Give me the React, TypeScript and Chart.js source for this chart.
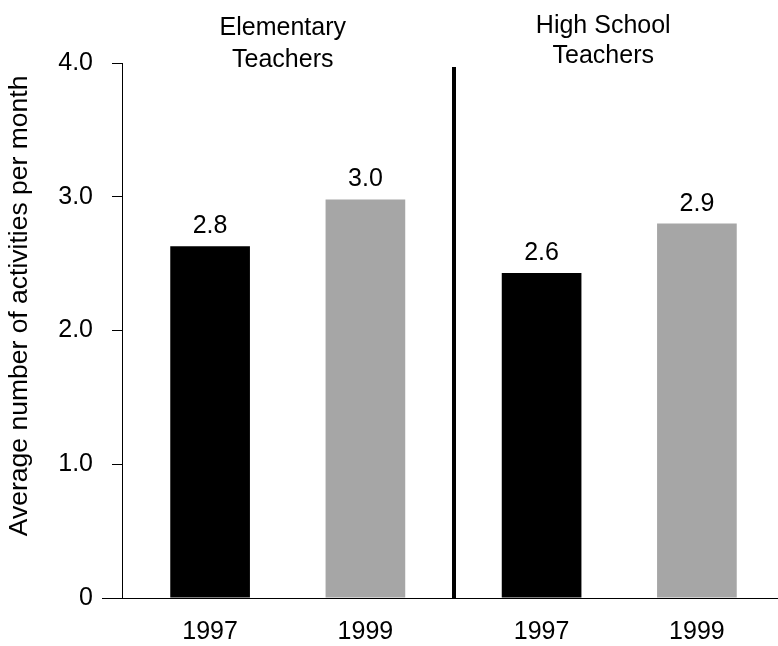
import React, { useEffect, useRef } from "react";
import { Chart, registerables } from "chart.js";

Chart.register(...registerables);

// ---- data ----
const groups = ["Elementary Teachers", "High School Teachers"];
const groupTitleLines = [
  ["Elementary", "Teachers"],
  ["High School", "Teachers"],
];
const years = ["1997", "1999"];
const values1997 = [2.63, 2.43];
const values1999 = [2.98, 2.8];
const labels1997 = ["2.8", "2.6"];
const labels1999 = ["3.0", "2.9"];
const yTickLabels = ["0", "1.0", "2.0", "3.0", "4.0"];
const yAxisTitle = "Average number of activities per month";

// ---- styles ----
const FONT = "'Liberation Sans', Arial, Helvetica, sans-serif";
const BLACK = "#000000";
const GRAY = "#a6a6a6";
const TITLE_SHIFT = [-5, -16];
const TITLE_BASELINES = [
  [-28, 3.5],
  [-30, -0.5],
];

const overlayPlugin = {
  id: "overlay",
  afterDatasetsDraw(chart: any) {
    const { ctx, chartArea, scales } = chart;
    const xs = scales.x;
    const ys = scales.y;
    ctx.save();
    ctx.fillStyle = BLACK;
    ctx.strokeStyle = BLACK;

    // value labels above bars and year labels below
    const valueLabels = [labels1997, labels1999];
    chart.data.datasets.forEach((_ds: any, di: number) => {
      const meta = chart.getDatasetMeta(di);
      meta.data.forEach((bar: any, i: number) => {
        ctx.font = `25px ${FONT}`;
        ctx.textAlign = "center";
        ctx.textBaseline = "alphabetic";
        ctx.fillText(valueLabels[di][i], bar.x, bar.y - 13);
        ctx.fillText(years[di], bar.x, chartArea.bottom + 41);
      });
    });

    // divider between groups
    const divX = (xs.getPixelForValue(0) + xs.getPixelForValue(1)) / 2;
    ctx.fillRect(Math.round(divX) - 2, chartArea.top + 4, 4, chartArea.bottom - chartArea.top - 4);

    // longer tick at zero
    const y0 = Math.round(ys.getPixelForValue(0)) + 0.5;
    ctx.lineWidth = 1;
    ctx.beginPath();
    ctx.moveTo(chartArea.left - 20, y0);
    ctx.lineTo(chartArea.left, y0);
    ctx.stroke();

    // group titles
    ctx.font = `25px ${FONT}`;
    ctx.textAlign = "center";
    ctx.textBaseline = "alphabetic";
    groupTitleLines.forEach((lines, gi) => {
      const cx = xs.getPixelForValue(gi) + TITLE_SHIFT[gi];
      lines.forEach((line, li) => {
        ctx.fillText(line, cx, chartArea.top + TITLE_BASELINES[gi][li]);
      });
    });

    // y axis title
    ctx.font = `26.5px ${FONT}`;
    ctx.translate(27, chartArea.top + (chartArea.bottom - chartArea.top) * 0.454);
    ctx.rotate(-Math.PI / 2);
    ctx.textAlign = "center";
    ctx.textBaseline = "alphabetic";
    ctx.fillText(yAxisTitle, 0, 0);
    ctx.restore();
  },
};

export default function App() {
  const canvasRef = useRef<HTMLCanvasElement | null>(null);

  useEffect(() => {
    if (!canvasRef.current) return;
    const chart = new Chart(canvasRef.current, {
      type: "bar",
      data: {
        labels: groups,
        datasets: [
          {
            label: years[0],
            data: values1997,
            backgroundColor: BLACK,
            borderWidth: 0,
            categoryPercentage: 0.937,
            barPercentage: 0.513,
          },
          {
            label: years[1],
            data: values1999,
            backgroundColor: GRAY,
            borderWidth: 0,
            categoryPercentage: 0.937,
            barPercentage: 0.513,
          },
        ],
      },
      options: {
        animation: false,
        responsive: true,
        maintainAspectRatio: false,
        layout: { padding: { top: 63, left: 0, right: 0, bottom: 0 } },
        plugins: {
          legend: { display: false },
          tooltip: { enabled: false },
          title: { display: false },
        },
        scales: {
          x: {
            grid: { display: false, drawTicks: false },
            border: { display: true, color: BLACK, width: 1 },
            ticks: { display: false },
            afterFit: (scale: any) => {
              scale.height = 48;
            },
          },
          y: {
            min: 0,
            max: 4,
            grid: {
              drawOnChartArea: false,
              drawTicks: true,
              tickLength: 10,
              color: BLACK,
              lineWidth: 1,
            },
            border: { display: true, color: BLACK, width: 1 },
            ticks: {
              stepSize: 1,
              padding: 19,
              color: BLACK,
              font: { family: FONT, size: 25 },
              callback: (_v: any, i: number) => yTickLabels[i],
            },
            afterFit: (scale: any) => {
              scale.width = 122;
            },
          },
        },
      },
      plugins: [overlayPlugin],
    });
    return () => chart.destroy();
  }, []);

  return (
    <div
      style={{
        position: "absolute",
        left: 0,
        top: 0,
        width: 778,
        height: 646,
        overflow: "hidden",
        background: "#ffffff",
      }}
    >
      <div style={{ position: "relative", width: 785, height: 646 }}>
        <canvas ref={canvasRef} />
      </div>
    </div>
  );
}
